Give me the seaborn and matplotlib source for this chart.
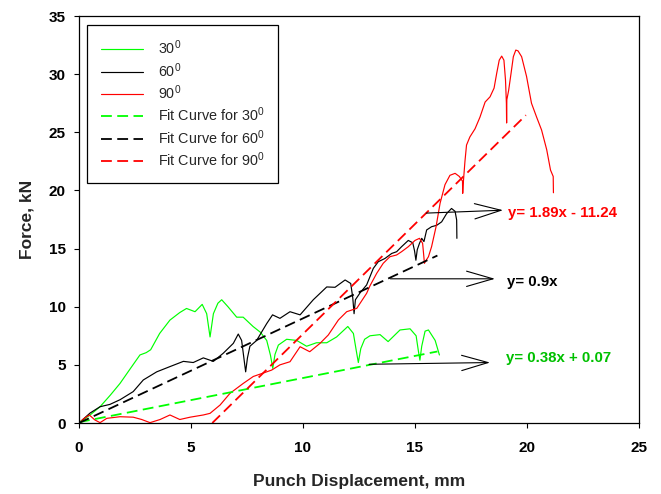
import matplotlib
matplotlib.use("Agg")
import matplotlib.pyplot as plt
import seaborn as sns

x30 = [0, 0.5, 0.94, 1.4, 1.83, 2.3, 2.72, 3.0, 3.2, 3.6, 4.06, 4.5, 4.8, 5.18, 5.5, 5.7, 5.85,
       6.0, 6.2, 6.37, 6.65, 7.04, 7.33, 7.77, 8.1, 8.38, 8.55, 8.65, 8.75, 8.9, 9.27, 9.72,
       10.16, 10.6, 11.06, 11.5, 12.0, 12.25, 12.38, 12.47, 12.58, 12.75, 12.99, 13.44, 13.8,
       14.33, 14.78, 15.05, 15.15, 15.22, 15.3, 15.45, 15.6, 15.9, 16.09]
y30 = [0, 0.7, 1.4, 2.4, 3.4, 4.7, 5.85, 6.05, 6.3, 7.7, 8.85, 9.5, 9.85, 9.57, 10.2, 9.4, 7.4,
       9.4, 10.3, 10.6, 10.0, 9.1, 9.1, 8.3, 7.8, 7.1, 5.8, 4.7, 5.9, 6.7, 7.2, 7.1,
       6.6, 6.9, 6.9, 7.4, 8.3, 7.7, 6.2, 5.2, 6.4, 7.2, 7.5, 7.6, 7.0,
       8.0, 8.1, 7.5, 6.2, 5.4, 6.6, 7.9, 8.0, 7.1, 5.85]

x60 = [0, 0.49, 0.94, 1.38, 1.83, 2.42, 2.87, 3.47, 4.06, 4.66, 5.1, 5.55, 6.0, 6.44, 6.89,
       7.11, 7.26, 7.36, 7.44, 7.52, 7.63, 7.93, 8.38, 8.64, 8.97, 9.42, 9.87, 10.46, 11.06,
       11.43, 11.88, 12.13, 12.22, 12.28, 12.34, 12.55, 12.84, 13.14, 13.36, 13.66, 13.96,
       14.18, 14.4, 14.7, 14.9, 14.98, 15.04, 15.1, 15.2, 15.3, 15.4, 15.52, 15.74, 15.97,
       16.19, 16.41, 16.63, 16.79, 16.86, 16.87]
y60 = [0, 0.85, 1.4, 1.6, 2.0, 2.7, 3.7, 4.4, 4.85, 5.3, 5.2, 5.6, 5.3, 6.0, 6.85,
       7.65, 7.1, 5.6, 4.4, 5.6, 6.6, 7.1, 8.55, 9.3, 9.0, 9.57, 9.3, 10.6, 11.7,
       11.67, 12.3, 12.0, 10.8, 9.4, 10.6, 11.2, 11.87, 13.3, 13.87, 14.15, 14.58,
       14.73, 15.16, 15.7, 15.5, 14.8, 14.0, 14.9, 15.45, 15.88, 15.6, 16.6, 16.88, 17.0,
       17.3, 18.0, 18.45, 18.2, 17.45, 15.88]

x90 = [0, 0.2, 0.34, 0.46, 0.6, 0.71, 0.94, 1.24, 1.83, 2.42, 2.8, 3.17, 3.62, 4.06, 4.5,
       4.96, 5.55, 5.85, 6.3, 6.74, 7.33, 7.78, 8.23, 8.6, 8.97, 9.42, 9.87, 10.3, 10.76,
       11.13, 11.58, 11.95, 12.4, 12.84, 12.99, 13.29, 13.58, 13.88, 14.18, 14.4, 14.7, 15.0,
       15.2, 15.34, 15.4, 15.42, 15.5, 15.6, 15.74, 15.94, 16.12, 16.34, 16.56, 16.79, 16.98,
       17.12, 17.13, 17.15, 17.23, 17.3, 17.45, 17.68, 17.9, 18.13, 18.35, 18.53, 18.65,
       18.76, 18.87, 18.97, 19.04, 19.08, 19.09, 19.1, 19.18, 19.29, 19.39, 19.5, 19.6,
       19.76, 19.98, 20.2, 20.43, 20.65, 20.88, 21.05, 21.17, 21.18]
y90 = [0, 0.35, 0.54, 0.69, 0.45, 0.26, 0.03, 0.4, 0.54, 0.5, 0.3, 0.03, 0.3, 0.69, 0.3,
       0.5, 0.69, 0.83, 1.55, 2.55, 3.4, 4.0, 4.3, 4.55, 5.0, 5.27, 6.56, 6.13, 6.85,
       7.57, 8.86, 9.57, 9.86, 11.15, 11.8, 12.87, 13.73, 14.3, 14.45, 14.73, 15.16, 15.7,
       15.88, 15.45, 14.2, 13.73, 14.0, 14.3, 15.16, 16.88, 18.9, 20.5, 21.3, 21.47, 21.2,
       20.8, 19.75, 20.5, 22.5, 23.9, 24.6, 25.3, 26.3, 27.6, 28.05, 28.8, 30.1,
       31.2, 31.55, 31.2, 29.5, 27.5, 25.8, 27.8, 28.6, 30.1, 31.5, 32.07, 32.0,
       31.5, 29.8, 27.5, 26.3, 25.2, 23.5, 21.75, 21.2, 19.8]

# end points of the fitted lines
fit30_x = [0, 16.0]
fit30_y = [0.07, 6.15]
fit60_x = [0, 16.0]
fit60_y = [0, 14.4]
fit90_x = [5.95, 19.95]
fit90_y = [0, 26.47]

labels = ["30$^0$", "60$^0$", "90$^0$",
          "Fit Curve for 30$^0$", "Fit Curve for 60$^0$", "Fit Curve for 90$^0$"]
equations = ["y= 0.38x + 0.07", "y= 0.9x", "y= 1.89x - 11.24"]
# arrow start, arrow tip, text anchor
eq_arrow_start = [(12.95, 5.05), (13.9, 12.4), (15.5, 18.05)]
eq_arrow_tip = [(18.35, 5.2), (18.57, 12.4), (18.93, 18.3)]
eq_text_pos = [(19.06, 5.55), (19.1, 12.1), (19.15, 18.1)]
eq_colors = ["#00c000", "black", "#ff0000"]

GREEN, BLACK, RED = "#00ff00", "black", "#ff0000"

sns.set_theme(style="ticks")
plt.rcParams["font.family"] = ["Liberation Sans", "DejaVu Sans"]
plt.rcParams["mathtext.default"] = "regular"

fig = plt.figure(figsize=(6.61, 4.94), dpi=100)
ax = fig.add_axes([79 / 661, 1 - 423 / 494, 560 / 661, 407 / 494])

lw = 0.85
dash = (0, (6, 3))
kw = dict(sort=False, estimator=None, ax=ax)
sns.lineplot(x=x30, y=y30, color=GREEN, lw=lw, label=labels[0], **kw)
sns.lineplot(x=x60, y=y60, color=BLACK, lw=lw, label=labels[1], **kw)
sns.lineplot(x=x90, y=y90, color=RED, lw=lw, label=labels[2], **kw)
sns.lineplot(x=fit30_x, y=fit30_y, color=GREEN, lw=1.3, linestyle=dash, label=labels[3], **kw)
sns.lineplot(x=fit60_x, y=fit60_y, color=BLACK, lw=1.3, linestyle=dash, label=labels[4], **kw)
sns.lineplot(x=fit90_x, y=fit90_y, color=RED, lw=1.3, linestyle=dash, label=labels[5], **kw)

for start, tip, pos, eq, col in zip(eq_arrow_start, eq_arrow_tip, eq_text_pos, equations, eq_colors):
    ax.annotate("", xy=tip, xytext=start,
                arrowprops=dict(arrowstyle="->,head_length=1.9,head_width=0.55",
                                color="black", lw=0.8, mutation_scale=10,
                                shrinkA=0, shrinkB=0))
    ax.text(pos[0], pos[1], eq, color=col, fontsize=10.8, fontweight="bold",
            ha="left", va="center")

ax.set_xlim(0, 25)
ax.set_ylim(0, 35)
ax.set_xticks(range(0, 26, 5))
ax.set_yticks(range(0, 36, 5))
ax.tick_params(direction="out", length=3.6, width=0.8, colors="black", labelsize=11, pad=6)
ax.tick_params(axis="x", pad=9)
for lbl in ax.get_xticklabels() + ax.get_yticklabels():
    lbl.set_fontweight("bold")
for sp in ax.spines.values():
    sp.set_visible(True)
    sp.set_color("black")
    sp.set_linewidth(0.9)

ax.set_xlabel("Punch Displacement, mm", fontsize=12.5, fontweight="bold", labelpad=14)
ax.set_ylabel("Force, kN", fontsize=12.5, fontweight="bold", labelpad=10)

leg = ax.legend(loc="upper left", bbox_to_anchor=(8 / 560, 1 - 9 / 407), borderaxespad=0,
                fontsize=10.4, frameon=True, fancybox=False, edgecolor="black", framealpha=1,
                handlelength=2.9, handletextpad=1.05, labelspacing=0.26, borderpad=0.95)
leg.get_frame().set_linewidth(0.9)

fig.savefig("out.png", dpi=100)
